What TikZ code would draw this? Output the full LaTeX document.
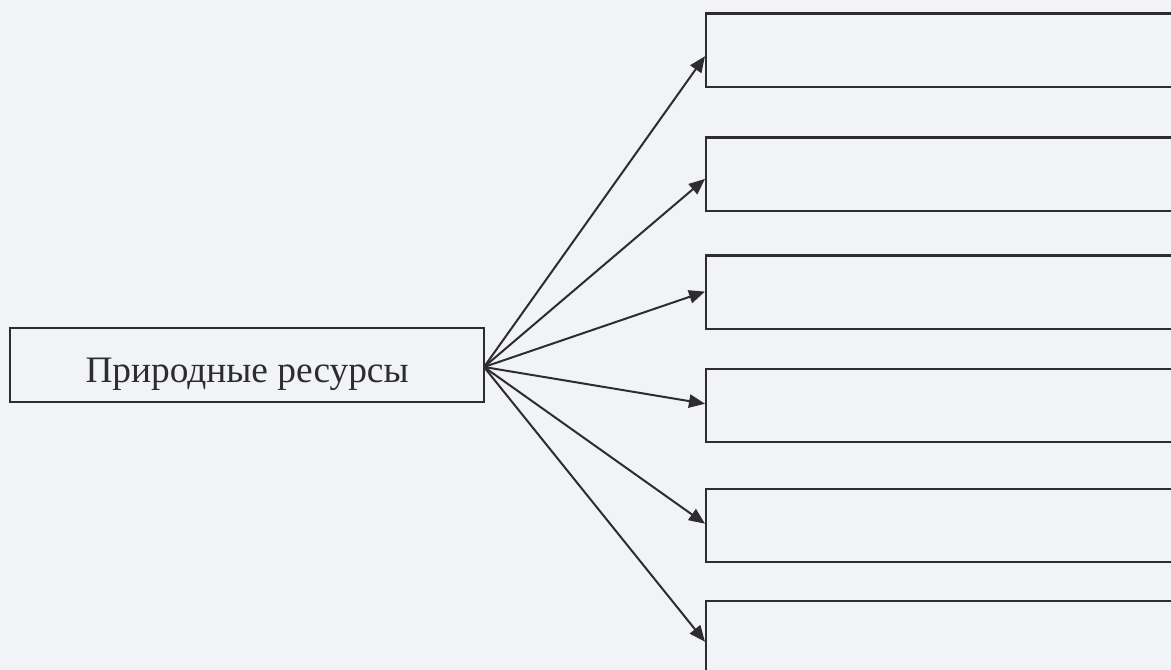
\documentclass[tikz,border=0pt]{standalone}
\usepackage{fontspec}
\setmainfont{Liberation Serif}
\usetikzlibrary{arrows.meta}
\definecolor{paper}{RGB}{242,243,246}
\definecolor{ink}{RGB}{45,45,48}
\tikzset{
  box/.style={draw=ink, line width=1.6pt, inner sep=0pt, anchor=north west, fill=paper},
  srcbox/.style={box, minimum width=355.5pt, minimum height=55.5pt, font=\fontsize{28}{32}\selectfont, text=ink},
  tgtbox/.style={box, minimum width=360pt, minimum height=55pt},
  arr/.style={draw=ink, line width=1.5pt, -{Triangle[length=12pt,width=10pt]}}
}
\begin{document}
\begin{tikzpicture}[x=0.75pt,y=-0.75pt]
\fill[paper] (0,0) rectangle (1171,670);
\useasboundingbox (0,0) rectangle (1171,670);
\clip (0,0) rectangle (1171,670);
\node[srcbox] (src) at (9,327) {\raisebox{-13pt}[0pt][0pt]{Природные ресурсы}};
\coordinate (o) at (484,367);
\node[tgtbox] (b1) at (705,12.5) {};
\node[tgtbox] (b2) at (705,136.5) {};
\node[tgtbox] (b3) at (705,254.5) {};
\node[tgtbox] (b4) at (705,368) {};
\node[tgtbox] (b5) at (705,488) {};
\node[tgtbox] (b6) at (705,600) {};
\draw[arr] (o) -- ([yshift=-4.5pt]b1.west);
\draw[arr] (o) -- ([yshift=-3.5pt]b2.west);
\draw[arr] (o) -- ([yshift=0.5pt]b3.west);
\draw[arr] (o) -- ([yshift=1.5pt]b4.west);
\draw[arr] (o) -- ([yshift=1.5pt]b5.west);
\draw[arr] (o) -- ([yshift=-3pt]b6.west);
\end{tikzpicture}
\end{document}
